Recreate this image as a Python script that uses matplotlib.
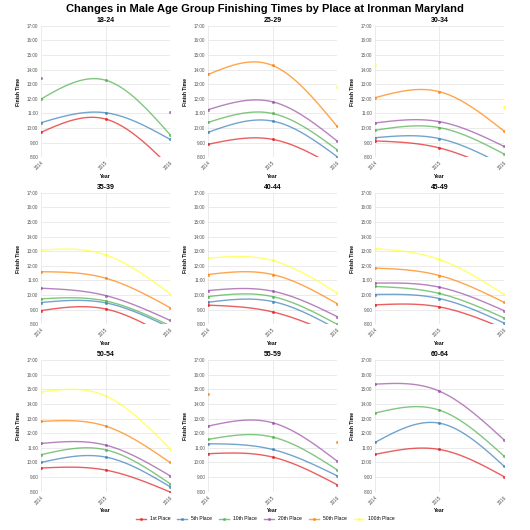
import numpy as np
import matplotlib
matplotlib.use("Agg")
import matplotlib.pyplot as plt
from matplotlib.ticker import FuncFormatter
from matplotlib.lines import Line2D

plt.rcParams["font.family"] = ["Liberation Sans", "DejaVu Sans"]

years = [2014, 2015, 2016]
age_groups = ["18-24", "25-29", "30-34", "35-39", "40-44",
              "45-49", "50-54", "55-59", "60-64"]
places = ["1st Place", "5th Place", "10th Place",
          "20th Place", "50th Place", "100th Place"]
colors = ["#e41a1c", "#377eb8", "#4daf4a", "#984ea3", "#ff7f00", "#ffff33"]

# finish times in hours, one row per age group (2014, 2015, 2016)
first_place = [
    [9.71, 10.62, 7.35],
    [8.89, 9.23, 7.28],
    [9.12, 8.64, 6.91],
    [8.94, 9.05, 7.08],
    [9.31, 8.85, 7.23],
    [9.33, 9.19, 7.71],
    [9.62, 9.48, 7.98],
    [10.60, 10.37, 8.48],
    [10.55, 10.89, 9.03],
]
fifth_place = [
    [10.37, 11.05, 9.23],
    [9.71, 10.48, 8.05],
    [9.34, 9.28, 7.45],
    [9.49, 9.47, 7.77],
    [9.51, 9.56, 7.67],
    [10.04, 9.76, 8.09],
    [10.00, 10.37, 8.34],
    [11.28, 10.89, 9.09],
    [11.37, 12.69, 9.75],
]
tenth_place = [
    [11.99, 13.28, 9.55],
    [10.39, 11.00, 8.52],
    [9.85, 10.03, 8.23],
    [9.74, 9.60, 7.90],
    [9.90, 9.90, 8.00],
    [10.59, 10.11, 8.44],
    [10.53, 10.87, 8.55],
    [11.58, 11.74, 9.50],
    [13.38, 13.58, 10.44],
]
twentieth_place = [
    [13.44, None, 11.08],
    [11.26, 11.80, 9.12],
    [10.35, 10.44, 8.75],
    [10.47, 9.97, 8.27],
    [10.31, 10.27, 8.53],
    [10.82, 10.54, 8.94],
    [11.30, 11.19, 9.09],
    [12.49, 12.72, 10.10],
    [15.36, 14.88, 11.55],
]
fiftieth_place = [
    [None, None, None],
    [13.67, 14.29, 10.12],
    [12.08, 12.49, 9.80],
    [11.60, 11.16, 9.14],
    [11.41, 11.41, 9.42],
    [11.85, 11.34, 9.51],
    [12.81, 12.49, 10.00],
    [14.67, None, 11.42],
    [None, None, None],
]
hundredth_place = [
    [None, None, None],
    [None, None, 12.81],
    [14.33, None, 11.46],
    [13.08, 12.76, 10.10],
    [12.53, 12.37, 10.15],
    [13.18, 12.44, 10.06],
    [14.83, 14.56, 10.94],
    [None, None, None],
    [None, None, None],
]
series = [first_place, fifth_place, tenth_place,
          twentieth_place, fiftieth_place, hundredth_place]


def natural_spline(x, y, n=60):
    x = np.asarray(x, float)
    y = np.asarray(y, float)
    k = len(x)
    h = np.diff(x)
    A = np.zeros((k, k))
    r = np.zeros(k)
    A[0, 0] = A[-1, -1] = 1
    for i in range(1, k - 1):
        A[i, i - 1] = h[i - 1]
        A[i, i] = 2 * (h[i - 1] + h[i])
        A[i, i + 1] = h[i]
        r[i] = 6 * ((y[i + 1] - y[i]) / h[i] - (y[i] - y[i - 1]) / h[i - 1])
    m = np.linalg.solve(A, r)
    xs, ys = [], []
    for i in range(k - 1):
        t = np.linspace(x[i], x[i + 1], n)
        a = (x[i + 1] - t) / h[i]
        b = (t - x[i]) / h[i]
        s = (a * y[i] + b * y[i + 1]
             + ((a ** 3 - a) * m[i] + (b ** 3 - b) * m[i + 1]) * h[i] ** 2 / 6)
        xs.append(t)
        ys.append(s)
    return np.concatenate(xs), np.concatenate(ys)


def runs(values):
    cur = []
    for yr, v in zip(years, values):
        if v is None:
            if cur:
                yield cur
            cur = []
        else:
            cur.append((yr, v))
    if cur:
        yield cur


fig = plt.figure(figsize=(5.3, 5.3), dpi=100)
fig.suptitle("Changes in Male Age Group Finishing Times by Place at Ironman Maryland",
             fontsize=8.0, fontweight="bold", y=0.993)

lefts = [0.0774, 0.3925, 0.7075]
bottoms = [0.7032, 0.3881, 0.0723]
w, hgt = 0.2434, 0.2480

grey = "#555555"
for idx, group in enumerate(age_groups):
    ax = fig.add_axes([lefts[idx % 3], bottoms[idx // 3], w, hgt])
    for vals, color in zip(series, colors):
        for run in runs(vals[idx]):
            xr = [p[0] for p in run]
            yr = [p[1] for p in run]
            if len(run) >= 3:
                xs, ys = natural_spline(xr, yr)
                ax.plot(xs, ys, color=color, alpha=0.7, lw=1.0)
            elif len(run) == 2:
                ax.plot(xr, yr, color=color, alpha=0.7, lw=1.0)
            ax.plot(xr, yr, "o", color=color, alpha=0.75, ms=2.2, mew=0)
    ax.set_xlim(2014, 2016)
    ax.set_ylim(8, 17)
    ax.set_xticks(years)
    ax.set_yticks(range(8, 18))
    ax.yaxis.set_major_formatter(FuncFormatter(lambda v, p: f"{int(v)}:00"))
    ax.tick_params(length=0, labelsize=3.3, labelcolor=grey, pad=2)
    plt.setp(ax.get_xticklabels(), rotation=45, ha="right", va="top",
             rotation_mode="anchor")
    ax.grid(True, color="#e8e8e8", lw=0.6)
    ax.set_axisbelow(True)
    for sp in ax.spines.values():
        sp.set_visible(False)
    ax.set_title(group, fontsize=5, fontweight="bold", pad=3)
    ax.set_xlabel("Year", fontsize=3.6, fontweight="bold", labelpad=2)
    ax.set_ylabel("Finish Time", fontsize=3.6, fontweight="bold", labelpad=4)

handles = [Line2D([0], [0], color=c, alpha=0.7, lw=1.0, marker="o", ms=2.2, mew=0)
           for c in colors]
fig.legend(handles, places, loc="center", bbox_to_anchor=(0.5, 0.021), ncol=6,
           frameon=False, fontsize=3.6, handlelength=2.0, columnspacing=1.4,
           handletextpad=0.8)

fig.savefig("out.png", dpi=100)
